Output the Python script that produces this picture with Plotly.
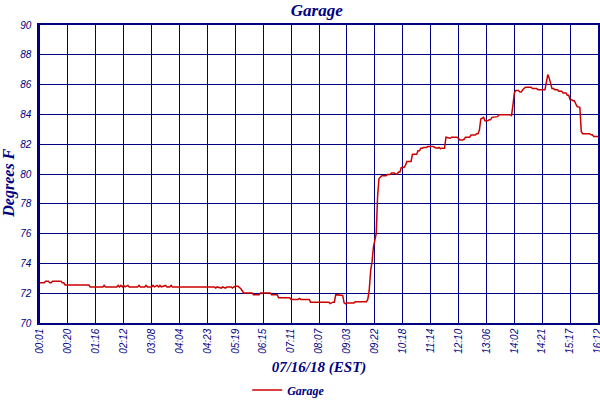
import plotly.graph_objects as go

# temperature log for the garage sensor, 07/16/18 (EST)
# reading number -> degrees F, only where the value changes
reading = [
    0, 3, 4, 6, 7, 8, 9, 15, 16, 17, 18, 35, 36, 45, 46, 47, 55, 56, 57, 58,
    59, 60, 61, 63, 64, 70, 71, 72, 75, 76, 77, 80, 81, 82, 84, 85, 86, 87, 90, 91,
    93, 94, 95, 125, 126, 127, 130, 131, 133, 134, 137, 138, 139, 140, 142, 144, 146, 152, 153, 157,
    158, 165, 166, 170, 171, 179, 180, 185, 186, 187, 193, 194, 207, 208, 210, 211, 212, 215, 216, 217,
    218, 219, 220, 225, 226, 234, 235, 236, 237, 238, 239, 240, 241, 242, 243, 245, 248, 249, 251, 252,
    254, 255, 256, 257, 258, 259, 261, 262, 263, 266, 267, 270, 271, 272, 273, 274, 275, 277, 278, 282,
    283, 285, 286, 287, 288, 290, 291, 294, 295, 299, 300, 301, 303, 304, 305, 308, 309, 312, 313, 314,
    315, 316, 318, 319, 321, 322, 323, 324, 328, 329, 337, 338, 339, 340, 341, 343, 344, 345, 346, 347,
    348, 352, 353, 356, 357, 362, 363, 364, 365, 366, 367, 368, 369, 371, 372, 374, 375, 377, 378, 379,
    380, 381, 382, 383, 384, 385, 387, 388, 389, 394, 395, 396, 397, 400,
]
temp_f = [
    72.7, 72.7, 72.8, 72.8, 72.7, 72.7, 72.8, 72.8, 72.7, 72.7, 72.55, 72.55, 72.42, 72.42, 72.52, 72.42, 72.42, 72.52, 72.42, 72.52,
    72.42, 72.52, 72.42, 72.52, 72.42, 72.42, 72.52, 72.42, 72.42, 72.52, 72.42, 72.42, 72.52, 72.42, 72.52, 72.42, 72.52, 72.42, 72.52, 72.42,
    72.42, 72.52, 72.42, 72.42, 72.34, 72.42, 72.34, 72.42, 72.34, 72.42, 72.42, 72.34, 72.42, 72.46, 72.46, 72.3, 72.02, 72.02, 71.9, 71.9,
    72.02, 72.02, 71.9, 71.9, 71.7, 71.7, 71.58, 71.58, 71.65, 71.58, 71.58, 71.4, 71.4, 71.3, 71.4, 71.4, 71.9, 71.9, 71.85, 71.85,
    71.35, 71.28, 71.35, 71.35, 71.42, 71.42, 71.6, 72.2, 73.5, 74.1, 75.1, 75.6, 76.0, 78.5, 79.7, 79.89, 79.89, 79.96, 79.96, 80.07,
    80.07, 80.0, 80.0, 80.13, 80.13, 80.44, 80.44, 80.6, 80.84, 80.84, 81.33, 81.33, 81.56, 81.56, 81.73, 81.73, 81.78, 81.78, 81.84, 81.84,
    81.78, 81.73, 81.78, 81.7, 81.73, 81.73, 82.47, 82.4, 82.47, 82.47, 82.4, 82.29, 82.29, 82.33, 82.47, 82.47, 82.62, 82.62, 82.7, 82.7,
    82.96, 83.69, 83.8, 83.57, 83.57, 83.64, 83.64, 83.8, 83.85, 83.98, 83.98, 83.92, 84.6, 85.44, 85.6, 85.6, 85.5, 85.5, 85.66, 85.78,
    85.82, 85.82, 85.73, 85.73, 85.66, 85.66, 86.1, 86.67, 86.45, 86.0, 85.73, 85.73, 85.66, 85.66, 85.55, 85.55, 85.44, 85.44, 85.28, 85.28,
    84.99, 84.99, 84.92, 84.92, 84.7, 84.52, 84.47, 82.85, 82.7, 82.7, 82.63, 82.63, 82.52, 82.52,
]

# a time label every 20 readings
tick_readings = list(range(0, 401, 20))
tick_labels = [
    "00:01", "00:20", "01:16", "02:12", "03:08", "04:04", "04:23", "05:19", "06:15", "07:11", "08:07",
    "09:03", "09:22", "10:18", "11:14", "12:10", "13:06", "14:02", "14:21", "15:17", "16:12",
]

NAVY = "#000080"
SERIF = "Liberation Serif, Times New Roman, serif"
SANS = "Liberation Sans, Arial, sans-serif"

fig = go.Figure()
fig.add_trace(go.Scatter(
    x=reading,
    y=temp_f,
    mode="lines",
    name="Garage",
    line=dict(color="#cc0000", width=1.5),
))

fig.update_layout(
    width=600,
    height=400,
    margin=dict(l=40, r=2, t=25, b=77, autoexpand=False),
    paper_bgcolor="white",
    plot_bgcolor="white",
    title=dict(
        text="Garage",
        x=0.528, xanchor="center",
        y=0.975, yanchor="middle",
        font=dict(family=SERIF, size=17, color=NAVY, weight="bold", style="italic"),
    ),
    showlegend=True,
    legend=dict(
        orientation="h",
        xref="container", yref="container",
        x=0.412, xanchor="left",
        y=0.025, yanchor="middle",
        font=dict(family=SERIF, size=12, color=NAVY, weight="bold", style="italic"),
        itemwidth=30,
    ),
    # y title as an annotation so it can sit a little below the middle
    annotations=[dict(
        text="Degrees F",
        xref="paper", yref="paper",
        x=-0.056, y=0.47,
        xanchor="center", yanchor="middle",
        textangle=-90,
        showarrow=False,
        font=dict(family=SERIF, size=16, color=NAVY, weight="bold", style="italic"),
    )],
)

fig.update_xaxes(
    range=[0, 400],
    automargin=False,
    tickmode="array",
    tickvals=tick_readings,
    ticktext=tick_labels,
    tickangle=-90,
    ticklabeloverflow="allow",
    tickfont=dict(family=SANS, size=10, color=NAVY, style="italic"),
    showgrid=True,
    gridcolor=NAVY,
    gridwidth=1.2,
    showline=True,
    linecolor=NAVY,
    linewidth=1.5,
    mirror=True,
    zeroline=False,
    title=dict(
        text="07/16/18 (EST)",
        standoff=14,
        font=dict(family=SERIF, size=15, color=NAVY, weight="bold", style="italic"),
    ),
)

fig.update_yaxes(
    range=[70, 90],
    automargin=False,
    dtick=2,
    tickfont=dict(family=SANS, size=10, color=NAVY, style="italic"),
    ticklabelstandoff=4,
    showgrid=True,
    gridcolor=NAVY,
    gridwidth=1.2,
    showline=True,
    linecolor=NAVY,
    linewidth=2.5,
    mirror=True,
    zeroline=False,
)

# drop the page's default body margin so the 600x400 figure fills the window
fig.write_html(
    "out.html",
    config={"displayModeBar": False},
    post_script="document.body.style.margin = '0';",
)
